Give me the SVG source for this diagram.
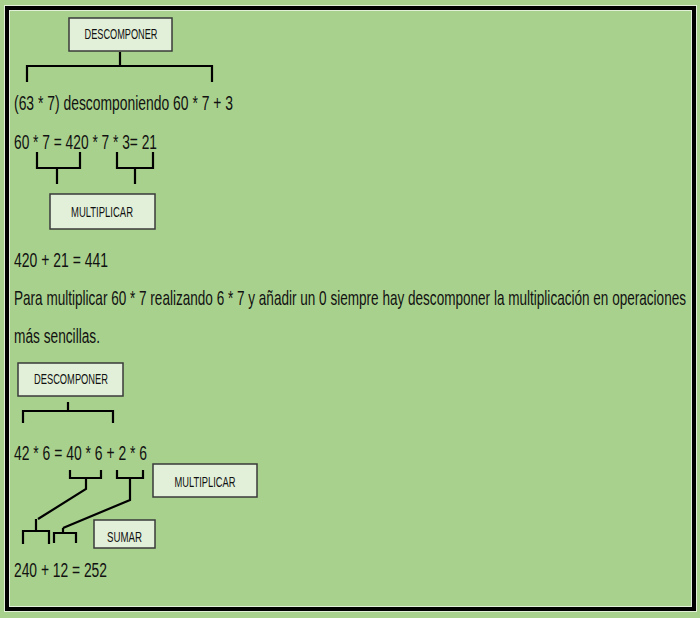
<svg xmlns="http://www.w3.org/2000/svg" width="700" height="618" viewBox="0 0 700 618">
<style>
.t{font-family:"Liberation Sans Narrow","Liberation Sans",Arial,sans-serif;font-size:20px;fill:#111}
.b{font-family:"Liberation Sans Narrow","Liberation Sans",Arial,sans-serif;font-size:14.5px;fill:#111}
.box{fill:#E2F0D9;stroke:#3a3a3a;stroke-width:1.5}
.br{fill:none;stroke:#000;stroke-width:2.2;stroke-linejoin:miter}
</style>
<rect x="0" y="0" width="700" height="618" fill="#A9D18E"/>
<rect x="7" y="8" width="687" height="601" fill="none" stroke="#E2F0D9" stroke-width="6"/>
<rect x="7" y="8" width="687" height="601" fill="none" stroke="#000" stroke-width="4"/>

<g id="connectors">
<path class="br" d="M27,82 V66 H212 V82 M120,66 V52"/>
<path class="br" d="M37,152 V168 H80 V152 M57,168 V184"/>
<path class="br" d="M117,152 V168 H153 V152 M135,168 V184"/>
<path class="br" d="M23,423 V411 H113 V423 M68,411 V402"/>
<path class="br" d="M70,470 V478 H101 V470 M86,478 V489 L38,519"/>
<path class="br" d="M117,470 V478 H143 V470 M130,478 V500 L63,528"/>
<path class="br" d="M23,544 V531 H49 V544 M36,531 V519"/>
<path class="br" d="M54,543 V533 H76 V543 M63,533 V528"/>
</g>

<g id="descomponer1"><rect class="box" x="69" y="18" width="103" height="33"/><text class="b" x="121" y="39" text-anchor="middle" textLength="73" lengthAdjust="spacingAndGlyphs">DESCOMPONER</text></g>
<g id="multiplicar1"><rect class="box" x="50" y="194" width="105" height="35"/><text class="b" x="102" y="216.5" text-anchor="middle" textLength="62" lengthAdjust="spacingAndGlyphs">MULTIPLICAR</text></g>
<g id="descomponer2"><rect class="box" x="18" y="363" width="105" height="33"/><text class="b" x="71" y="384" text-anchor="middle" textLength="74" lengthAdjust="spacingAndGlyphs">DESCOMPONER</text></g>
<g id="multiplicar2"><rect class="box" x="153" y="464" width="104" height="33"/><text class="b" x="205" y="486.5" text-anchor="middle" textLength="61" lengthAdjust="spacingAndGlyphs">MULTIPLICAR</text></g>
<g id="sumar"><rect class="box" x="94" y="520" width="61" height="28"/><text class="b" x="124.5" y="541.5" text-anchor="middle" textLength="35" lengthAdjust="spacingAndGlyphs">SUMAR</text></g>

<g id="texts">
<text class="t" x="14" y="110" textLength="219" lengthAdjust="spacingAndGlyphs">(63 * 7) descomponiendo 60 * 7 + 3</text>
<text class="t" x="14" y="149" textLength="143" lengthAdjust="spacingAndGlyphs">60 * 7 = 420 * 7 * 3= 21</text>
<text class="t" x="14" y="267" textLength="94" lengthAdjust="spacingAndGlyphs">420 + 21 = 441</text>
<text class="t" transform="translate(14,305) scale(0.75,1)" x="0" y="0" textLength="896" lengthAdjust="spacingAndGlyphs">Para multiplicar 60 * 7 realizando 6 * 7 y añadir un 0 siempre hay descomponer la multiplicación en operaciones</text>
<text class="t" x="14" y="343" textLength="86" lengthAdjust="spacingAndGlyphs">más sencillas.</text>
<text class="t" x="14" y="460" textLength="133" lengthAdjust="spacingAndGlyphs">42 * 6 = 40 * 6 + 2 * 6</text>
<text class="t" x="14" y="577" textLength="93" lengthAdjust="spacingAndGlyphs">240 + 12 = 252</text>
</g>
</svg>
